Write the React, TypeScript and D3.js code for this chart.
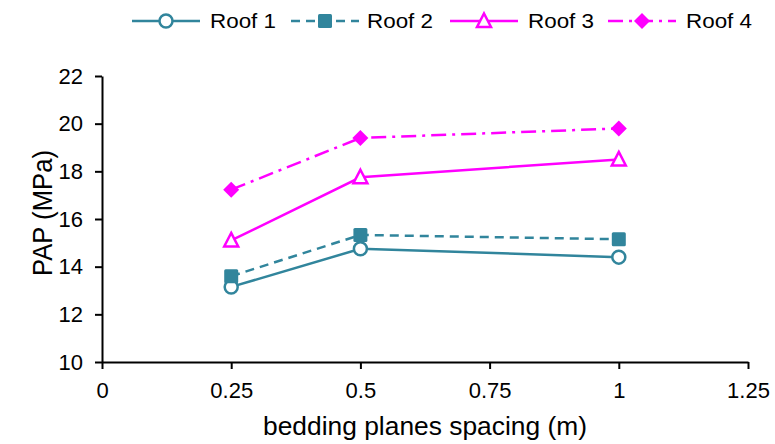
import React, { useEffect, useRef } from "react";
import * as d3 from "d3";

const spacing = [0.25, 0.5, 1];
const roof1 = [13.15, 14.75, 14.4];
const roof2 = [13.6, 15.33, 15.15];
const roof3 = [15.1, 17.75, 18.5];
const roof4 = [17.23, 19.4, 19.8];
const seriesNames = ["Roof 1", "Roof 2", "Roof 3", "Roof 4"];
const xTicks = [0, 0.25, 0.5, 0.75, 1, 1.25];
const yTicks = [10, 12, 14, 16, 18, 20, 22];

const TEAL = "#31859c";
const MAGENTA = "#ff00ff";

export default function App() {
  const ref = useRef<SVGSVGElement>(null);

  useEffect(() => {
    const svg = d3.select(ref.current);
    svg.selectAll("*").remove();

    const x = d3.scaleLinear().domain([0, 1.25]).range([102, 748]);
    const y = d3.scaleLinear().domain([10, 22]).range([362, 76]);
    const font = "Liberation Sans, Arial, sans-serif";

    const styles = [
      { values: roof1, color: TEAL, dash: null, marker: "circle" },
      { values: roof2, color: TEAL, dash: "9,6", marker: "square" },
      { values: roof3, color: MAGENTA, dash: null, marker: "triangle" },
      { values: roof4, color: MAGENTA, dash: "15,6,3,6", marker: "diamond" },
    ];

    const drawMarker = (g: any, kind: string, cx: number, cy: number, color: string) => {
      if (kind === "circle") {
        g.append("circle").attr("cx", cx).attr("cy", cy).attr("r", 6.5)
          .attr("fill", "#fff").attr("stroke", color).attr("stroke-width", 2.5);
      } else if (kind === "square") {
        g.append("rect").attr("x", cx - 7).attr("y", cy - 7).attr("width", 14).attr("height", 14)
          .attr("rx", 1.5).attr("fill", color);
      } else if (kind === "triangle") {
        g.append("path")
          .attr("d", `M${cx},${cy - 7.5}L${cx + 7},${cy + 6}L${cx - 7},${cy + 6}Z`)
          .attr("fill", "#fff").attr("stroke", color).attr("stroke-width", 2.5);
      } else {
        g.append("path")
          .attr("d", `M${cx},${cy - 8}L${cx + 8},${cy}L${cx},${cy + 8}L${cx - 8},${cy}Z`)
          .attr("fill", color);
      }
    };

    // axes
    const yAxis = svg.append("g").attr("transform", `translate(${x(0)},0)`)
      .call(d3.axisLeft(y).tickValues(yTicks).tickSize(7).tickSizeOuter(0).tickFormat(d3.format("d")));
    const xAxis = svg.append("g").attr("transform", `translate(0,${y(10)})`)
      .call(d3.axisBottom(x).tickValues(xTicks).tickSize(7).tickSizeOuter(0).tickFormat((d: any) => String(d)));
    [xAxis, yAxis].forEach((a) => {
      a.selectAll("path,line").attr("stroke", "#000").attr("stroke-width", 2);
      a.selectAll("text").attr("fill", "#000").style("font-size", "22px").style("font-family", font);
    });
    yAxis.selectAll("text").attr("x", -19);
    xAxis.selectAll("text").attr("y", 20);

    // series
    const line = d3.line<number>().x((_, i) => x(spacing[i])).y((d) => y(d));
    styles.forEach((s) => {
      svg.append("path").datum(s.values).attr("d", line)
        .attr("fill", "none").attr("stroke", s.color).attr("stroke-width", 2.5)
        .attr("stroke-dasharray", s.dash);
      const g = svg.append("g");
      s.values.forEach((v, i) => drawMarker(g, s.marker, x(spacing[i]), y(v), s.color));
    });

    // titles
    svg.append("text").attr("x", 425).attr("y", 435).attr("text-anchor", "middle")
      .attr("textLength", 324).attr("lengthAdjust", "spacingAndGlyphs")
      .style("font-size", "25px").style("font-family", font).text("bedding planes spacing (m)");
    svg.append("text").attr("transform", `translate(52,213) rotate(-90)`)
      .attr("text-anchor", "middle").attr("textLength", 126).attr("lengthAdjust", "spacingAndGlyphs")
      .style("font-size", "27px").style("font-family", font)
      .text("PAP (MPa)");

    // legend
    const legendX = [132, 291, 450, 608];
    const legendText = [210, 367, 528, 686];
    const ly = 21;
    styles.forEach((s, i) => {
      const g = svg.append("g");
      g.append("line").attr("x1", legendX[i]).attr("x2", legendX[i] + 68).attr("y1", ly).attr("y2", ly)
        .attr("stroke", s.color).attr("stroke-width", 2.5).attr("stroke-dasharray", s.dash);
      drawMarker(g, s.marker, legendX[i] + 34, ly, s.color);
      g.append("text").attr("x", legendText[i]).attr("y", ly).attr("dy", "0.35em")
        .attr("textLength", 66).attr("lengthAdjust", "spacingAndGlyphs")
        .style("font-size", "20px").style("font-family", font).text(seriesNames[i]);
    });
  }, []);

  return (
    <svg ref={ref} width={775} height={444}
      style={{ position: "absolute", left: 0, top: 0, background: "#fff" }} />
  );
}
